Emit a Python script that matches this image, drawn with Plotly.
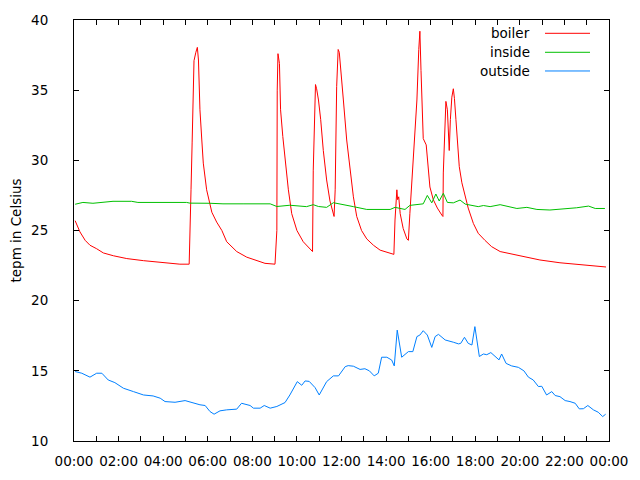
import pandas as pd
import plotly.graph_objects as go

day = "2013-01-01 "

boiler_t = ["00:03", "00:16", "00:30", "00:43", "01:01", "01:19", "01:46", "02:22", "03:07", "03:52",
            "04:45", "05:10", "05:12", "05:15", "05:18", "05:20", "05:23", "05:28", "05:32", "05:35",
            "05:39", "05:44", "05:48", "05:57", "06:11", "06:24", "06:38", "06:51", "07:05", "07:18",
            "07:45", "08:12", "08:34", "09:01", "09:06", "09:07", "09:09", "09:13", "09:16", "09:22",
            "09:28", "09:37", "09:46", "10:00", "10:17", "10:42", "10:44", "10:47", "10:50", "10:53",
            "10:58", "11:04", "11:11", "11:20", "11:29", "11:40", "11:43", "11:47", "11:51", "11:54",
            "11:58", "12:05", "12:14", "12:23", "12:32", "12:41", "12:54", "13:08", "13:26", "13:44",
            "14:02", "14:21", "14:24", "14:29", "14:31", "14:34", "14:38", "14:46", "14:56", "15:00",
            "15:04", "15:13", "15:23", "15:28", "15:31", "15:34", "15:40", "15:48", "15:52", "15:58",
            "16:07", "16:18", "16:30", "16:33", "16:34", "16:39", "16:41", "16:45", "16:48", "16:50",
            "16:53", "16:57", "17:01", "17:04", "17:08", "17:12", "17:17", "17:24", "17:33", "17:41",
            "17:55", "18:08", "18:26", "18:44", "19:07", "20:01", "20:54", "21:48", "22:42", "23:36",
            "23:52"]
boiler_v = [25.7, 24.9, 24.3, 23.95, 23.7, 23.4, 23.2, 23.0, 22.85, 22.73,
            22.6, 22.6, 24.3, 27.9, 31.3, 35.0, 37.1, 37.7, 38.05, 37.15,
            33.6, 31.45, 29.8, 27.9, 26.3, 25.6, 25.0, 24.2, 23.85, 23.5,
            23.1, 22.85, 22.66, 22.6, 25.0, 35.0, 37.6, 36.9, 33.6, 31.7,
            30.0, 27.9, 26.2, 25.0, 24.2, 23.5, 29.3, 33.4, 35.4, 35.1,
            34.3, 32.9, 30.7, 28.6, 27.1, 26.0, 27.9, 35.25, 37.9, 37.7,
            36.6, 34.3, 31.45, 29.3, 27.4, 26.0, 25.0, 24.4, 23.95, 23.6,
            23.45, 23.3, 25.75, 27.9, 27.2, 27.4, 26.2, 25.15, 24.4, 24.3,
            26.2, 29.8, 34.3, 37.9, 39.2, 36.4, 31.55, 31.1, 30.0, 28.1,
            27.2, 26.6, 26.1, 26.0, 29.1, 33.1, 34.2, 33.6, 32.2, 30.7,
            32.9, 34.5, 35.1, 34.4, 32.9, 31.0, 29.55, 28.4, 27.4, 26.6,
            25.5, 24.8, 24.3, 23.85, 23.5, 23.2, 22.9, 22.7, 22.55, 22.4,
            22.4]

inside_t = ["00:03", "00:24", "00:51", "01:45", "02:35", "02:52", "05:03", "05:12", "06:06", "06:41",
            "07:35", "08:48", "09:06", "09:41", "10:26", "10:44", "10:58", "11:20", "11:38", "11:56",
            "12:32", "13:08", "14:11", "14:24", "14:38", "14:51", "15:04", "15:31", "15:40", "15:51",
            "16:03", "16:14", "16:23", "16:34", "16:45", "17:01", "17:19", "17:33", "17:55", "18:08",
            "18:22", "18:40", "19:07", "19:34", "19:52", "20:19", "20:46", "21:21", "22:06", "22:33",
            "23:05", "23:23", "23:49"]
inside_v = [26.87, 27.0, 26.94, 27.08, 27.08, 27.0, 27.0, 26.95, 26.94, 26.9,
            26.9, 26.9, 26.71, 26.8, 26.7, 26.84, 26.71, 26.65, 26.98, 26.9,
            26.7, 26.5, 26.5, 26.65, 26.55, 26.5, 26.79, 26.9, 26.9, 27.5,
            26.97, 27.6, 27.1, 27.65, 27.0, 26.97, 27.17, 26.88, 26.8, 26.7,
            26.78, 26.7, 26.84, 26.7, 26.57, 26.65, 26.5, 26.46, 26.55, 26.62,
            26.74, 26.57, 26.57]

outside_t = ["00:03", "00:21", "00:43", "01:01", "01:15", "01:32", "01:50", "02:13", "02:40", "03:07",
             "03:33", "03:52", "04:05", "04:32", "04:59", "05:17", "05:39", "05:53", "06:06", "06:17",
             "06:33", "06:51", "07:18", "07:31", "07:54", "08:03", "08:21", "08:32", "08:48", "09:06",
             "09:28", "09:41", "10:01", "10:13", "10:22", "10:33", "10:49", "11:00", "11:20", "11:38",
             "11:52", "12:10", "12:18", "12:32", "12:50", "13:03", "13:15", "13:28", "13:39", "13:48",
             "14:02", "14:15", "14:22", "14:30", "14:42", "15:00", "15:12", "15:23", "15:31", "15:40",
             "15:51", "16:03", "16:12", "16:21", "16:39", "17:01", "17:15", "17:21", "17:31", "17:41",
             "17:51", "17:59", "18:11", "18:22", "18:31", "18:42", "18:58", "19:04", "19:11", "19:23",
             "19:38", "19:56", "20:11", "20:23", "20:36", "20:50", "20:59", "21:12", "21:26", "21:35",
             "21:48", "22:02", "22:15", "22:29", "22:40", "22:51", "23:03", "23:18", "23:31", "23:43",
             "23:51"]
outside_v = [14.95, 14.83, 14.55, 14.83, 14.83, 14.35, 14.16, 13.76, 13.52, 13.28,
             13.21, 13.05, 12.81, 12.76, 12.88, 12.74, 12.58, 12.53, 12.1, 11.91,
             12.15, 12.22, 12.27, 12.69, 12.53, 12.34, 12.34, 12.53, 12.34, 12.46,
             12.74, 13.28, 14.23, 13.97, 14.28, 14.25, 13.8, 13.28, 14.23, 14.64,
             14.64, 15.3, 15.37, 15.33, 15.1, 15.15, 15.0, 14.64, 14.83, 15.97,
             15.97, 15.77, 15.35, 17.9, 15.97, 16.37, 16.37, 17.44, 17.55, 17.86,
             17.55, 16.67, 17.44, 17.6, 17.2, 17.04, 16.92, 16.96, 17.39, 16.96,
             16.84, 18.15, 16.02, 16.2, 16.15, 16.3, 15.97, 15.78, 16.2, 15.53,
             15.35, 15.25, 15.0, 14.55, 14.35, 13.88, 13.9, 13.28, 13.52, 13.24,
             13.16, 12.88, 12.81, 12.69, 12.29, 12.3, 12.53, 12.22, 12.05, 11.74,
             11.91]

series = [("boiler", boiler_t, boiler_v, "#ff0000"),
          ("inside", inside_t, inside_v, "#00c000"),
          ("outside", outside_t, outside_v, "#0080ff")]

font = dict(family="DejaVu Sans", size=13.5, color="black")

fig = go.Figure()
for name, t, v, col in series:
    fig.add_trace(go.Scatter(
        x=pd.to_datetime([day + s for s in t]), y=v, name=name,
        mode="lines", line=dict(color=col, width=1), showlegend=False
    ))

# gnuplot style key: text right-aligned, sample line to the right
key_y = [0.9684, 0.9233, 0.8789]
for (name, t, v, col), ky in zip(series, key_y):
    fig.add_annotation(x=0.8555, y=ky, xref="paper", yref="paper", text=name,
                       showarrow=False, xanchor="right", yanchor="middle", font=font)
    fig.add_shape(type="line", xref="paper", yref="paper", x0=0.8804, x1=0.9645,
                  y0=ky, y1=ky, line=dict(color=col, width=1))

# the page body has an 8px margin, so the figure is shrunk to fit
fig.update_layout(
    width=632, height=472,
    margin=dict(l=66, r=31, t=12, b=39),
    plot_bgcolor="white", paper_bgcolor="white",
    font=font,
    xaxis=dict(
        range=[pd.Timestamp(day + "00:00"), pd.Timestamp(day + "00:00") + pd.Timedelta(days=1)],
        tickformat="%H:%M", dtick=2 * 3600000,
        tick0=pd.Timestamp(day + "00:00"),
        ticks="inside", ticklen=5, tickcolor="black",
        minor=dict(dtick=3600000, ticks="inside", ticklen=5, tickcolor="black"),
        showline=True, linecolor="black", linewidth=1, mirror="ticks",
        showgrid=False, zeroline=False, ticklabelstandoff=8, automargin=False,
    ),
    yaxis=dict(
        range=[10, 40], dtick=5,
        ticks="inside", ticklen=5, tickcolor="black",
        showline=True, linecolor="black", linewidth=1, mirror="ticks",
        showgrid=False, zeroline=False, ticklabelstandoff=22, automargin=False,
        title=dict(text="tepm in Celsius", standoff=15, font=font),
    ),
)

fig.write_html("out.html")
